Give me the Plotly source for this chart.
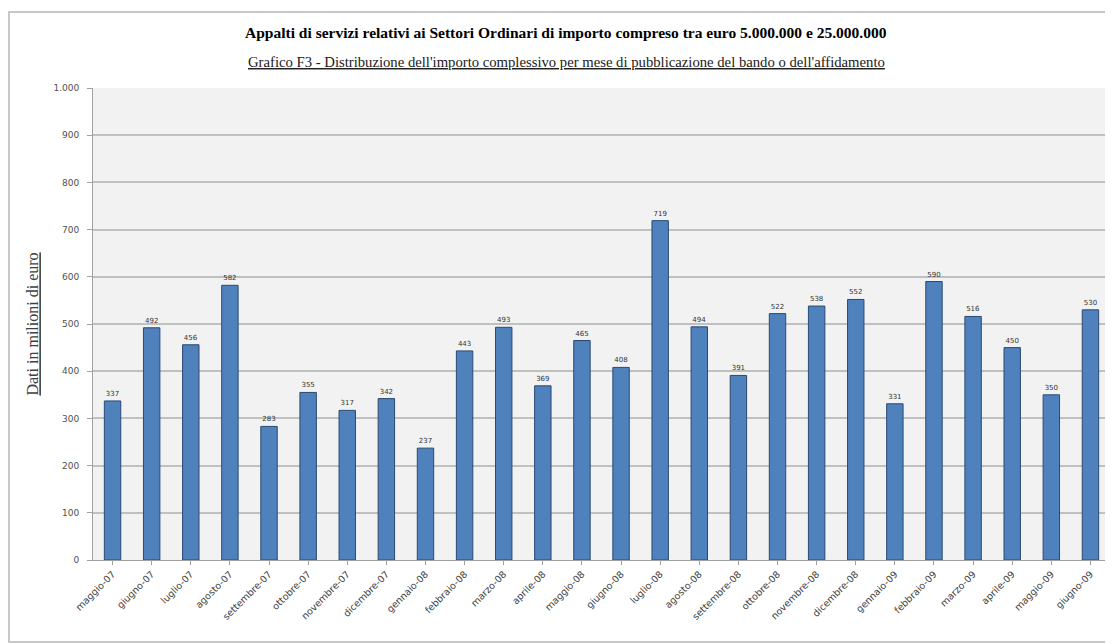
import plotly.graph_objects as go

months = ["maggio-07", "giugno-07", "luglio-07", "agosto-07", "settembre-07", "ottobre-07",
          "novembre-07", "dicembre-07", "gennaio-08", "febbraio-08", "marzo-08", "aprile-08",
          "maggio-08", "giugno-08", "luglio-08", "agosto-08", "settembre-08", "ottobre-08",
          "novembre-08", "dicembre-08", "gennaio-09", "febbraio-09", "marzo-09", "aprile-09",
          "maggio-09", "giugno-09"]
values = [337, 492, 456, 582, 283, 355, 317, 342, 237, 443, 493, 369, 465, 408, 719,
          494, 391, 522, 538, 552, 331, 590, 516, 450, 350, 530]
y_ticks = [0, 100, 200, 300, 400, 500, 600, 700, 800, 900, 1000]

# page body has an 8px margin: figure starts at (8, 8) in the window
OFF = 8
W, H = 1113 - OFF, 644 - OFF
PLOT_L, PLOT_T, PLOT_B = 93, 88, 560          # page coordinates of the plot area
ml, mr, mt, mb = PLOT_L - OFF, 3, PLOT_T - OFF, 644 - PLOT_B
pw = W - ml - mr
ph = H - mt - mb


def px_x(page_x):
    return (page_x - PLOT_L) / pw


def px_y(page_y):
    return (PLOT_B - page_y) / ph


fig = go.Figure(go.Bar(
    x=months, y=values,
    marker=dict(color="#4f81bd", line=dict(color="#2a4a72", width=1)),
    text=values, textposition="outside", cliponaxis=False,
    textfont=dict(family="DejaVu Sans", size=7, color="#333333"),
))

cx = px_x(566)

fig.update_layout(
    width=W, height=H,
    margin=dict(l=ml, r=mr, t=mt, b=mb),
    paper_bgcolor="white", plot_bgcolor="#f2f2f2",
    separators=",.",
    bargap=0.58,
    showlegend=False,
    font=dict(family="DejaVu Sans", color="#404040"),
    xaxis=dict(
        tickangle=-45, tickfont=dict(size=9.5, color="#404040"),
        showgrid=False, showline=True, linecolor="#a0a0a0",
        ticks="outside", ticklen=4, tickcolor="#a0a0a0",
    ),
    yaxis=dict(
        range=[0, 1000], tickvals=y_ticks, tickformat=",d",
        tickfont=dict(size=9, color="#505050"),
        showgrid=True, gridcolor="#c0c0c0", gridwidth=1.5,
        showline=True, linecolor="#a0a0a0",
        ticks="outside", ticklen=5, tickcolor="#a0a0a0",
        ticklabelstandoff=6,
        title=dict(text="<u>Dati in milioni di euro</u>",
                   font=dict(family="Liberation Serif", size=16, color="#404040"),
                   standoff=10),
        zeroline=False,
    ),
    annotations=[
        dict(text="<b>Appalti di servizi relativi ai Settori Ordinari di importo compreso tra euro 5.000.000 e 25.000.000</b>",
             xref="paper", yref="paper", x=cx, y=px_y(33),
             xanchor="center", yanchor="middle", showarrow=False,
             font=dict(family="Liberation Serif", size=15.5, color="#000000")),
        dict(text="<u>Grafico F3 - Distribuzione dell'importo complessivo per mese di pubblicazione del bando o dell'affidamento</u>",
             xref="paper", yref="paper", x=cx, y=px_y(62),
             xanchor="center", yanchor="middle", showarrow=False,
             font=dict(family="Liberation Serif", size=14.7, color="#202020")),
    ],
    shapes=[
        dict(type="rect", xref="paper", yref="paper",
             x0=px_x(OFF + 1), x1=px_x(1111),
             y0=px_y(642), y1=px_y(12),
             line=dict(color="#c8c8c8", width=2), layer="below"),
    ],
)

fig.write_html("out.html")
